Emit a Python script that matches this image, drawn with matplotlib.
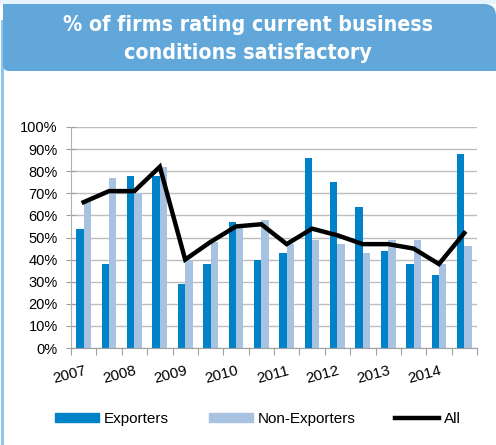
import matplotlib.pyplot as plt
from matplotlib.patches import Rectangle, PathPatch
from matplotlib.path import Path
from matplotlib.lines import Line2D
from matplotlib.transforms import Affine2D
import numpy as np

plt.rcParams['font.family'] = ['Liberation Sans', 'DejaVu Sans']

# half-year groups, labelled every second one
year_labels = ["2007", "2008", "2009", "2010", "2011", "2012", "2013", "2014"]
exporters     = [54, 38, 78, 78, 29, 38, 57, 40, 43, 86, 75, 64, 44, 38, 33, 88]
non_exporters = [67, 77, 70, 82, 40, 48, 55, 58, 47, 49, 47, 43, 49, 49, 38, 46]
all_firms     = [66, 71, 71, 82, 40, 48, 55, 56, 47, 54, 51, 47, 47, 45, 38, 52]

c_exp = "#0082c8"
c_non = "#a7c3e1"
c_head = "#61a7da"

W, H = 496, 445
fig = plt.figure(figsize=(W / 100, H / 100), dpi=100)
fig.patch.set_facecolor("white")

# frame decorations in pixel coords (y pointing down)
to_fig = Affine2D().scale(1.0 / W, -1.0 / H).translate(0, 1) + fig.transFigure

fig.patches.append(Rectangle((0, 0), W, 4, transform=to_fig,
                             facecolor="#e6f3fc", edgecolor="none", zorder=0))
fig.patches.append(Rectangle((1, 20), 3, H - 20, transform=to_fig,
                             facecolor="#8fc6ec", edgecolor="none", zorder=0))

# header: square top-left, rounded top-right, small rounded bottom-left
r1, r2 = 12, 6
x0, x1, y0, y1 = 3, W + 2, 4, 71
verts = [(x0, y0), (W - r1, y0), (W, y0), (W, y0 + r1), (x1, y0 + r1), (x1, y1),
         (x0 + r2, y1), (x0, y1), (x0, y1 - r2), (x0, y0)]
codes = [Path.MOVETO, Path.LINETO, Path.CURVE3, Path.CURVE3, Path.LINETO, Path.LINETO,
         Path.LINETO, Path.CURVE3, Path.CURVE3, Path.CLOSEPOLY]
fig.patches.append(PathPatch(Path(verts, codes), transform=to_fig,
                             facecolor=c_head, edgecolor="none", zorder=1))
fig.text(0.5, 1 - 39 / H, "% of firms rating current business\nconditions satisfactory",
         ha="center", va="center", color="white", fontsize=15.3,
         fontweight="bold", family="DejaVu Sans", fontstretch="condensed",
         linespacing=1.45, zorder=2)

ax = fig.add_axes([71 / W, 1 - 348 / H, (477 - 71) / W, (348 - 127) / H])
x = np.arange(len(exporters))
w = 0.29
ax.bar(x - w / 2, exporters, width=w, color=c_exp, zorder=2)
ax.bar(x + w / 2, non_exporters, width=w, color=c_non, zorder=2)
ax.plot(x, all_firms, color="black", lw=3.2, zorder=3, solid_joinstyle="miter")

ax.set_xlim(-0.5, len(x) - 0.5)
ax.set_ylim(0, 100)
ax.set_yticks(range(0, 101, 10))
ax.set_yticklabels([f"{v}%" for v in range(0, 101, 10)], fontsize=10.5)
ax.yaxis.grid(True, color="#bdbdbd", lw=1)
ax.set_axisbelow(True)
ax.tick_params(axis="y", length=7, direction="inout", color="#a0a0a0", pad=6)

ax.set_xticks(np.arange(-0.5, len(x), 1.0))
ax.set_xticklabels([])
ax.tick_params(axis="x", length=5, color="#a0a0a0", direction="out")
for i, lab in enumerate(year_labels):
    ax.text(2 * i, -7, lab, rotation=15, ha="right", va="top",
            rotation_mode="anchor", fontsize=11, transform=ax.transData)

for s in ["top", "right"]:
    ax.spines[s].set_visible(False)
ax.spines["left"].set_color("#b0b0b0")
ax.spines["bottom"].set_color("#a0a0a0")

handles = [Rectangle((0, 0), 1, 1, color=c_exp),
           Rectangle((0, 0), 1, 1, color=c_non),
           Line2D([0], [0], color="black", lw=3.2)]
fig.legend(handles, ["Exporters", "Non-Exporters", "All"], loc="center",
           bbox_to_anchor=(258 / W, 1 - 419 / H), ncol=3, frameon=False,
           fontsize=11, handlelength=2.9, handleheight=0.6,
           columnspacing=2.6, handletextpad=0.3)

fig.savefig("out.png", dpi=100)
